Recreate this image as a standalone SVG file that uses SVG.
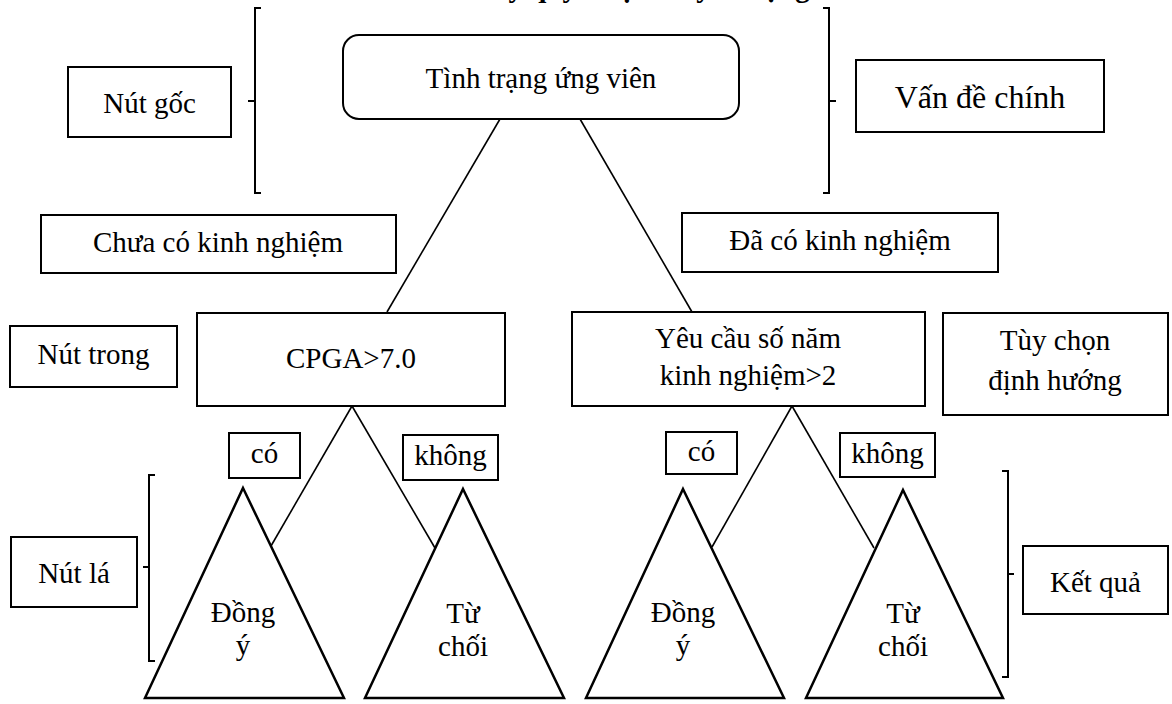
<svg xmlns="http://www.w3.org/2000/svg" width="1172" height="704" viewBox="0 0 1172 704">
<style>
.box{fill:#fff;stroke:#000;stroke-width:2}
.tri{fill:#fff;stroke:#000;stroke-width:2.5;stroke-linejoin:miter}
.ln{stroke:#000;stroke-width:1.6;fill:none}
.br{stroke:#000;stroke-width:2;fill:none}
text{font-family:"Liberation Serif","Times New Roman",serif;font-size:29px;fill:#000;text-anchor:middle}
.title{font-weight:bold;text-anchor:start}
</style>
<rect width="1172" height="704" fill="#fff"/>
<text class="title" x="473" y="-3">Cây quyết định tuyển dụng</text>
<g id="connectors">
<line class="ln" x1="500" y1="119" x2="387" y2="312"/>
<line class="ln" x1="580" y1="119" x2="692" y2="312"/>
<line class="ln" x1="352" y1="406" x2="271" y2="546"/>
<line class="ln" x1="352" y1="406" x2="435" y2="548"/>
<line class="ln" x1="792" y1="406" x2="712" y2="547"/>
<line class="ln" x1="792" y1="406" x2="874" y2="548"/>
</g>
<g id="bracket-root"><path class="br" d="M261,8 H255 V193 H261 M255,101 H248"/></g>
<g id="bracket-main"><path class="br" d="M823,8 H829 V193 H823 M829,101 H836"/></g>
<g id="bracket-leaf"><path class="br" d="M155,475 H149 V661 H155 M149,567 H143"/></g>
<g id="bracket-result"><path class="br" d="M1002,471 H1008 V677 H1002 M1008,574 H1014"/></g>
<g id="nut-goc"><rect class="box" x="68" y="67" width="163" height="70"/><text x="149.5" y="113">Nút gốc</text></g>
<g id="root"><rect class="box" x="343" y="35" width="396" height="84" rx="16"/><text x="541" y="88">Tình trạng ứng viên</text></g>
<g id="van-de-chinh"><rect class="box" x="856" y="60" width="248" height="72"/><text x="980" y="108" style="font-size:32px">Vấn đề chính</text></g>
<g id="chua-co"><rect class="box" x="41" y="215" width="355" height="58"/><text x="218" y="252">Chưa có kinh nghiệm</text></g>
<g id="da-co"><rect class="box" x="682" y="213" width="316" height="59"/><text x="840" y="250">Đã có kinh nghiệm</text></g>
<g id="nut-trong"><rect class="box" x="10" y="326" width="167" height="61"/><text x="93.5" y="364">Nút trong</text></g>
<g id="cpga"><rect class="box" x="197" y="313" width="308" height="93"/><text x="351" y="368">CPGA&gt;7.0</text></g>
<g id="yeu-cau"><rect class="box" x="572" y="312" width="353" height="94"/><text x="748" y="348">Yêu cầu số năm</text><text x="748" y="385">kinh nghiệm&gt;2</text></g>
<g id="tuy-chon"><rect class="box" x="943" y="313" width="225" height="102"/><text x="1055" y="350">Tùy chọn</text><text x="1055" y="390">định hướng</text></g>
<g id="co-1"><rect class="box" x="229" y="433" width="71" height="45"/><text x="264.5" y="463">có</text></g>
<g id="khong-1"><rect class="box" x="403" y="435" width="95" height="45"/><text x="450.5" y="465">không</text></g>
<g id="co-2"><rect class="box" x="666" y="432" width="71" height="42"/><text x="701.5" y="461">có</text></g>
<g id="khong-2"><rect class="box" x="840" y="433" width="95" height="44"/><text x="887.5" y="463">không</text></g>
<g id="nut-la"><rect class="box" x="11" y="537" width="126" height="70"/><text x="74" y="583">Nút lá</text></g>
<g id="ket-qua"><rect class="box" x="1023" y="546" width="145" height="68"/><text x="1095.5" y="592">Kết quả</text></g>
<g id="leaf-1"><polygon class="tri" points="243,488 344,698 145,698"/><text x="243" y="622">Đồng</text><text x="243" y="655">ý</text></g>
<g id="leaf-2"><polygon class="tri" points="463,489 564,698 365,698"/><text x="463" y="623">Từ</text><text x="463" y="656">chối</text></g>
<g id="leaf-3"><polygon class="tri" points="683,489 784,698 586,698"/><text x="683" y="622">Đồng</text><text x="683" y="655">ý</text></g>
<g id="leaf-4"><polygon class="tri" points="903,490 1003,698 806,698"/><text x="903" y="623">Từ</text><text x="903" y="656">chối</text></g>
</svg>
